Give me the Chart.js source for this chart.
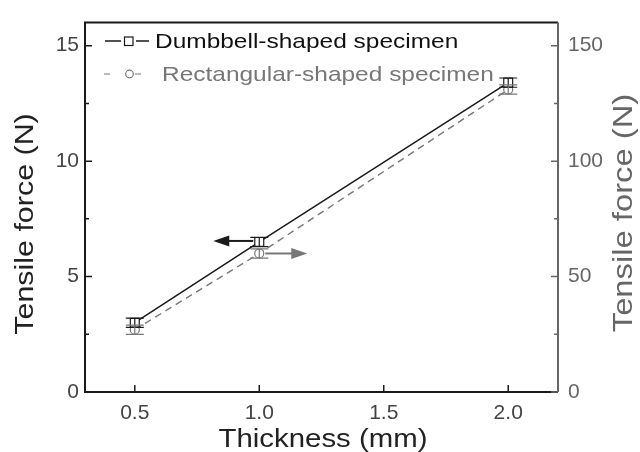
<!DOCTYPE html>
<html>
<head>
<meta charset="utf-8">
<script src="https://cdn.jsdelivr.net/npm/chart.js@4.4.0/dist/chart.umd.min.js"></script>
<style>
  html, body { margin: 0; padding: 0; background: #fff; }
  #wrap { width: 640px; height: 452px; }
</style>
</head>
<body>
<div id="wrap"><canvas id="grafico" width="640" height="452"></canvas></div>
<script>
// dados
const espessura = [0.5, 1.0, 2.0];
const forcaHalter = [3.0, 6.5, 13.4];      // eixo esquerdo
const erroHalter = [0.2, 0.2, 0.2];
const forcaRetangular = [27, 60, 131];     // eixo direito
const erroRetangular = [2, 2, 2];

const ticksX = [0.5, 1.0, 1.5, 2.0];
const ticksEsq = [0, 5, 10, 15];
const ticksDir = [0, 50, 100, 150];

const nomeHalter = 'Dumbbell-shaped specimen';
const nomeRetangular = 'Rectangular-shaped specimen';
const tituloX = 'Thickness (mm)';
const tituloY = 'Tensile force (N)';

const PRETO = '#1a1a1a';
const CINZA = '#777777';
const FONTE = '"Liberation Sans", Arial, sans-serif';

// texto com leve esticamento horizontal, como no original
function texto(ctx, str, x, y, tamanho, cor, alinhar, rot, esticar) {
  ctx.save();
  ctx.translate(x, y);
  if (rot) ctx.rotate(rot);
  ctx.scale(esticar || 1, 1);
  ctx.font = tamanho + 'px ' + FONTE;
  ctx.fillStyle = cor;
  ctx.textAlign = alinhar || 'left';
  ctx.textBaseline = 'alphabetic';
  ctx.fillText(str, 0, 0);
  ctx.restore();
}

function seta(ctx, x0, x1, y, cor) {
  const dir = Math.sign(x1 - x0);
  ctx.save();
  ctx.strokeStyle = cor;
  ctx.fillStyle = cor;
  ctx.lineWidth = 2;
  ctx.beginPath();
  ctx.moveTo(x0, y);
  ctx.lineTo(x1 - dir * 12, y);
  ctx.stroke();
  ctx.beginPath();
  ctx.moveTo(x1, y);
  ctx.lineTo(x1 - dir * 16, y - 5.5);
  ctx.lineTo(x1 - dir * 16, y + 5.5);
  ctx.closePath();
  ctx.fill();
  ctx.restore();
}

const pluginMoldura = {
  id: 'moldura',
  afterDatasetsDraw(chart) {
    const ctx = chart.ctx;
    const sx = chart.scales.x, sy = chart.scales.y, sy1 = chart.scales.y1;

    // barras de erro
    function barras(valores, erros, escala, cor) {
      ctx.save();
      ctx.strokeStyle = cor;
      ctx.lineWidth = 1.2;
      valores.forEach((v, i) => {
        const px = sx.getPixelForValue(espessura[i]);
        const yt = escala.getPixelForValue(v + erros[i]);
        const yb = escala.getPixelForValue(v - erros[i]);
        ctx.beginPath();
        ctx.moveTo(px, yt); ctx.lineTo(px, yb);
        ctx.moveTo(px - 9, yt); ctx.lineTo(px + 9, yt);
        ctx.moveTo(px - 9, yb); ctx.lineTo(px + 9, yb);
        ctx.stroke();
      });
      ctx.restore();
    }
    barras(forcaHalter, erroHalter, sy, PRETO);
    barras(forcaRetangular, erroRetangular, sy1, CINZA);

    // setas indicando o eixo de cada série
    const xm = sx.getPixelForValue(espessura[1]);
    seta(ctx, xm - 6, xm - 46, sy.getPixelForValue(forcaHalter[1]) - 1, PRETO);
    seta(ctx, xm + 6, xm + 48, sy1.getPixelForValue(forcaRetangular[1]), CINZA);
  },
  afterDraw(chart) {
    const ctx = chart.ctx;
    const a = chart.chartArea;
    const sx = chart.scales.x, sy = chart.scales.y, sy1 = chart.scales.y1;

    // moldura
    ctx.save();
    ctx.lineWidth = 2;
    ctx.strokeStyle = PRETO;
    ctx.beginPath();
    ctx.moveTo(a.right, a.top); ctx.lineTo(a.left, a.top);
    ctx.lineTo(a.left, a.bottom); ctx.lineTo(a.right, a.bottom);
    ctx.stroke();
    ctx.strokeStyle = '#666';
    ctx.beginPath();
    ctx.moveTo(a.right, a.top); ctx.lineTo(a.right, a.bottom);
    ctx.stroke();

    // marcas para dentro
    ctx.lineWidth = 1.5;
    ctx.strokeStyle = PRETO;
    ctx.beginPath();
    ticksX.forEach(t => {
      const px = sx.getPixelForValue(t);
      ctx.moveTo(px, a.bottom); ctx.lineTo(px, a.bottom - 7);
    });
    for (let v = 0; v <= 15; v += 2.5) {
      const py = sy.getPixelForValue(v);
      ctx.moveTo(a.left, py); ctx.lineTo(a.left + (v % 5 === 0 ? 7 : 4), py);
    }
    ctx.stroke();
    ctx.strokeStyle = '#666';
    ctx.beginPath();
    for (let v = 0; v <= 150; v += 25) {
      const py = sy1.getPixelForValue(v);
      ctx.moveTo(a.right, py); ctx.lineTo(a.right - (v % 50 === 0 ? 7 : 4), py);
    }
    ctx.stroke();
    ctx.restore();

    // títulos dos eixos
    texto(ctx, tituloY, 33, 224, 26, '#222', 'center', -Math.PI / 2, 1.17);
    texto(ctx, tituloY, 632, 213, 28, '#666', 'center', -Math.PI / 2, 1.17);
    texto(ctx, tituloX, 323, 447, 26, '#222', 'center', 0, 1.13);

    // legenda
    ctx.save();
    ctx.lineWidth = 1.5;
    ctx.strokeStyle = PRETO;
    ctx.beginPath();
    ctx.moveTo(105, 41); ctx.lineTo(121, 41);
    ctx.moveTo(136, 41); ctx.lineTo(149, 41);
    ctx.stroke();
    ctx.lineWidth = 1.2;
    ctx.strokeRect(124.5, 37, 8.5, 8.5);
    ctx.strokeStyle = CINZA;
    ctx.beginPath();
    ctx.moveTo(104, 74); ctx.lineTo(110, 74);
    ctx.moveTo(135, 74); ctx.lineTo(141, 74);
    ctx.stroke();
    ctx.beginPath();
    ctx.arc(129.5, 74, 3.8, 0, Math.PI * 2);
    ctx.stroke();
    ctx.restore();
    texto(ctx, nomeHalter, 155, 48, 21, '#111', 'left', 0, 1.165);
    texto(ctx, nomeRetangular, 162, 81, 21, CINZA, 'left', 0, 1.165);
  }
};

const ctx = document.getElementById('grafico').getContext('2d');
new Chart(ctx, {
  type: 'line',
  data: {
    datasets: [
      {
        label: nomeHalter,
        data: espessura.map((x, i) => ({ x: x, y: forcaHalter[i] })),
        yAxisID: 'y',
        borderColor: PRETO,
        borderWidth: 1.5,
        pointStyle: 'rect',
        pointRadius: 6.3,
        pointBorderWidth: 1.2,
        pointBackgroundColor: '#fff',
        pointBorderColor: PRETO,
        tension: 0
      },
      {
        label: nomeRetangular,
        data: espessura.map((x, i) => ({ x: x, y: forcaRetangular[i] })),
        yAxisID: 'y1',
        borderColor: CINZA,
        borderWidth: 1.4,
        borderDash: [7, 5],
        pointStyle: 'circle',
        pointRadius: 4.5,
        pointBorderWidth: 1.2,
        pointBackgroundColor: '#fff',
        pointBorderColor: CINZA,
        tension: 0
      }
    ]
  },
  plugins: [pluginMoldura],
  options: {
    responsive: false,
    animation: false,
    layout: { padding: { top: 13, left: 0, right: 0, bottom: 0 } },
    plugins: { legend: { display: false }, tooltip: { enabled: false } },
    scales: {
      x: {
        type: 'linear',
        min: 0.3,
        max: 2.2,
        afterBuildTicks: s => { s.ticks = ticksX.map(v => ({ value: v })); },
        afterFit: s => { s.height = 60; },
        grid: { display: false, drawTicks: false },
        border: { display: false },
        ticks: {
          padding: 9,
          color: '#444',
          font: { family: FONTE, size: 21 },
          callback: v => v.toFixed(1)
        }
      },
      y: {
        position: 'left',
        min: 0,
        max: 16,
        afterBuildTicks: s => { s.ticks = ticksEsq.map(v => ({ value: v })); },
        afterFit: s => { s.width = 85; },
        grid: { display: false, drawTicks: false },
        border: { display: false },
        ticks: { padding: 6, color: '#444', font: { family: FONTE, size: 21 } }
      },
      y1: {
        position: 'right',
        min: 0,
        max: 160,
        afterBuildTicks: s => { s.ticks = ticksDir.map(v => ({ value: v })); },
        afterFit: s => { s.width = 82; },
        grid: { display: false, drawTicks: false },
        border: { display: false },
        ticks: { padding: 10, color: '#666', font: { family: FONTE, size: 21 } }
      }
    }
  }
});
</script>
</body>
</html>
